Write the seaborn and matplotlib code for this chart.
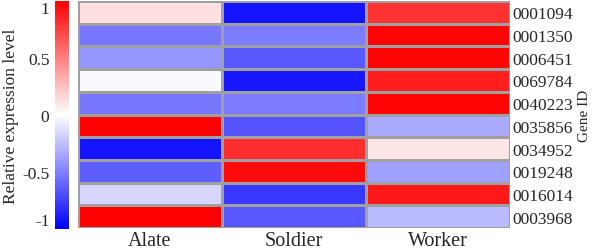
import numpy as np
import pandas as pd
import matplotlib
matplotlib.use('Agg')
import matplotlib.pyplot as plt
import seaborn as sns

genes = ['0001094', '0001350', '0006451', '0069784', '0040223',
         '0035856', '0034952', '0019248', '0016014', '0003968']
castes = ['Alate', 'Soldier', 'Worker']
alate = [0.12, -0.53, -0.41, -0.03, -0.53, 1.0, -0.92, -0.63, -0.16, 1.0]
soldier = [-0.92, -0.51, -0.65, -0.90, -0.51, -0.67, 0.82, 0.96, -0.78, -0.65]
worker = [0.80, 0.98, 0.97, 0.88, 0.98, -0.33, 0.10, -0.37, 0.90, -0.27]
cbar_ticks = [-1, -0.5, 0, 0.5, 1]
cbar_labels = ['-1', '-0.5', '0', '0.5', '1']

df = pd.DataFrame({'Alate': alate, 'Soldier': soldier, 'Worker': worker}, index=genes)

sns.set_style('white')
plt.rcParams['font.family'] = ['Liberation Serif', 'DejaVu Serif']

fig = plt.figure(figsize=(5.96, 2.53), dpi=100)
ax = fig.add_axes([78/596, 1-229/253, 432/596, 227/253])
cax = fig.add_axes([55/596, 1-230/253, 14/596, 228/253])

sns.heatmap(df, ax=ax, cbar_ax=cax, cmap='bwr', vmin=-1, vmax=1,
            linewidths=0.8, linecolor='#a0a0a0')

ax.yaxis.tick_right()
ax.yaxis.set_label_position('right')
ax.set_yticklabels(genes, rotation=0, fontsize=12.5)
ax.set_xticklabels(castes, rotation=0, fontsize=14.5)
ax.tick_params(axis='both', length=0, pad=2)
ax.set_ylabel('Gene ID', fontsize=11, labelpad=3)
ax.set_xlabel('')

cax.yaxis.set_ticks_position('left')
cax.yaxis.set_label_position('left')
cax.set_yticks(cbar_ticks)
cax.set_yticklabels(cbar_labels, fontsize=12.5)
tl = cax.get_yticklabels()
tl[-1].set_va('top')
tl[0].set_va('bottom')
cax.tick_params(length=0, pad=4)
cax.set_ylabel('Relative expression level', fontsize=12.5, labelpad=2)
for s in cax.spines.values():
    s.set_visible(False)

fig.savefig('out.png', dpi=100)
